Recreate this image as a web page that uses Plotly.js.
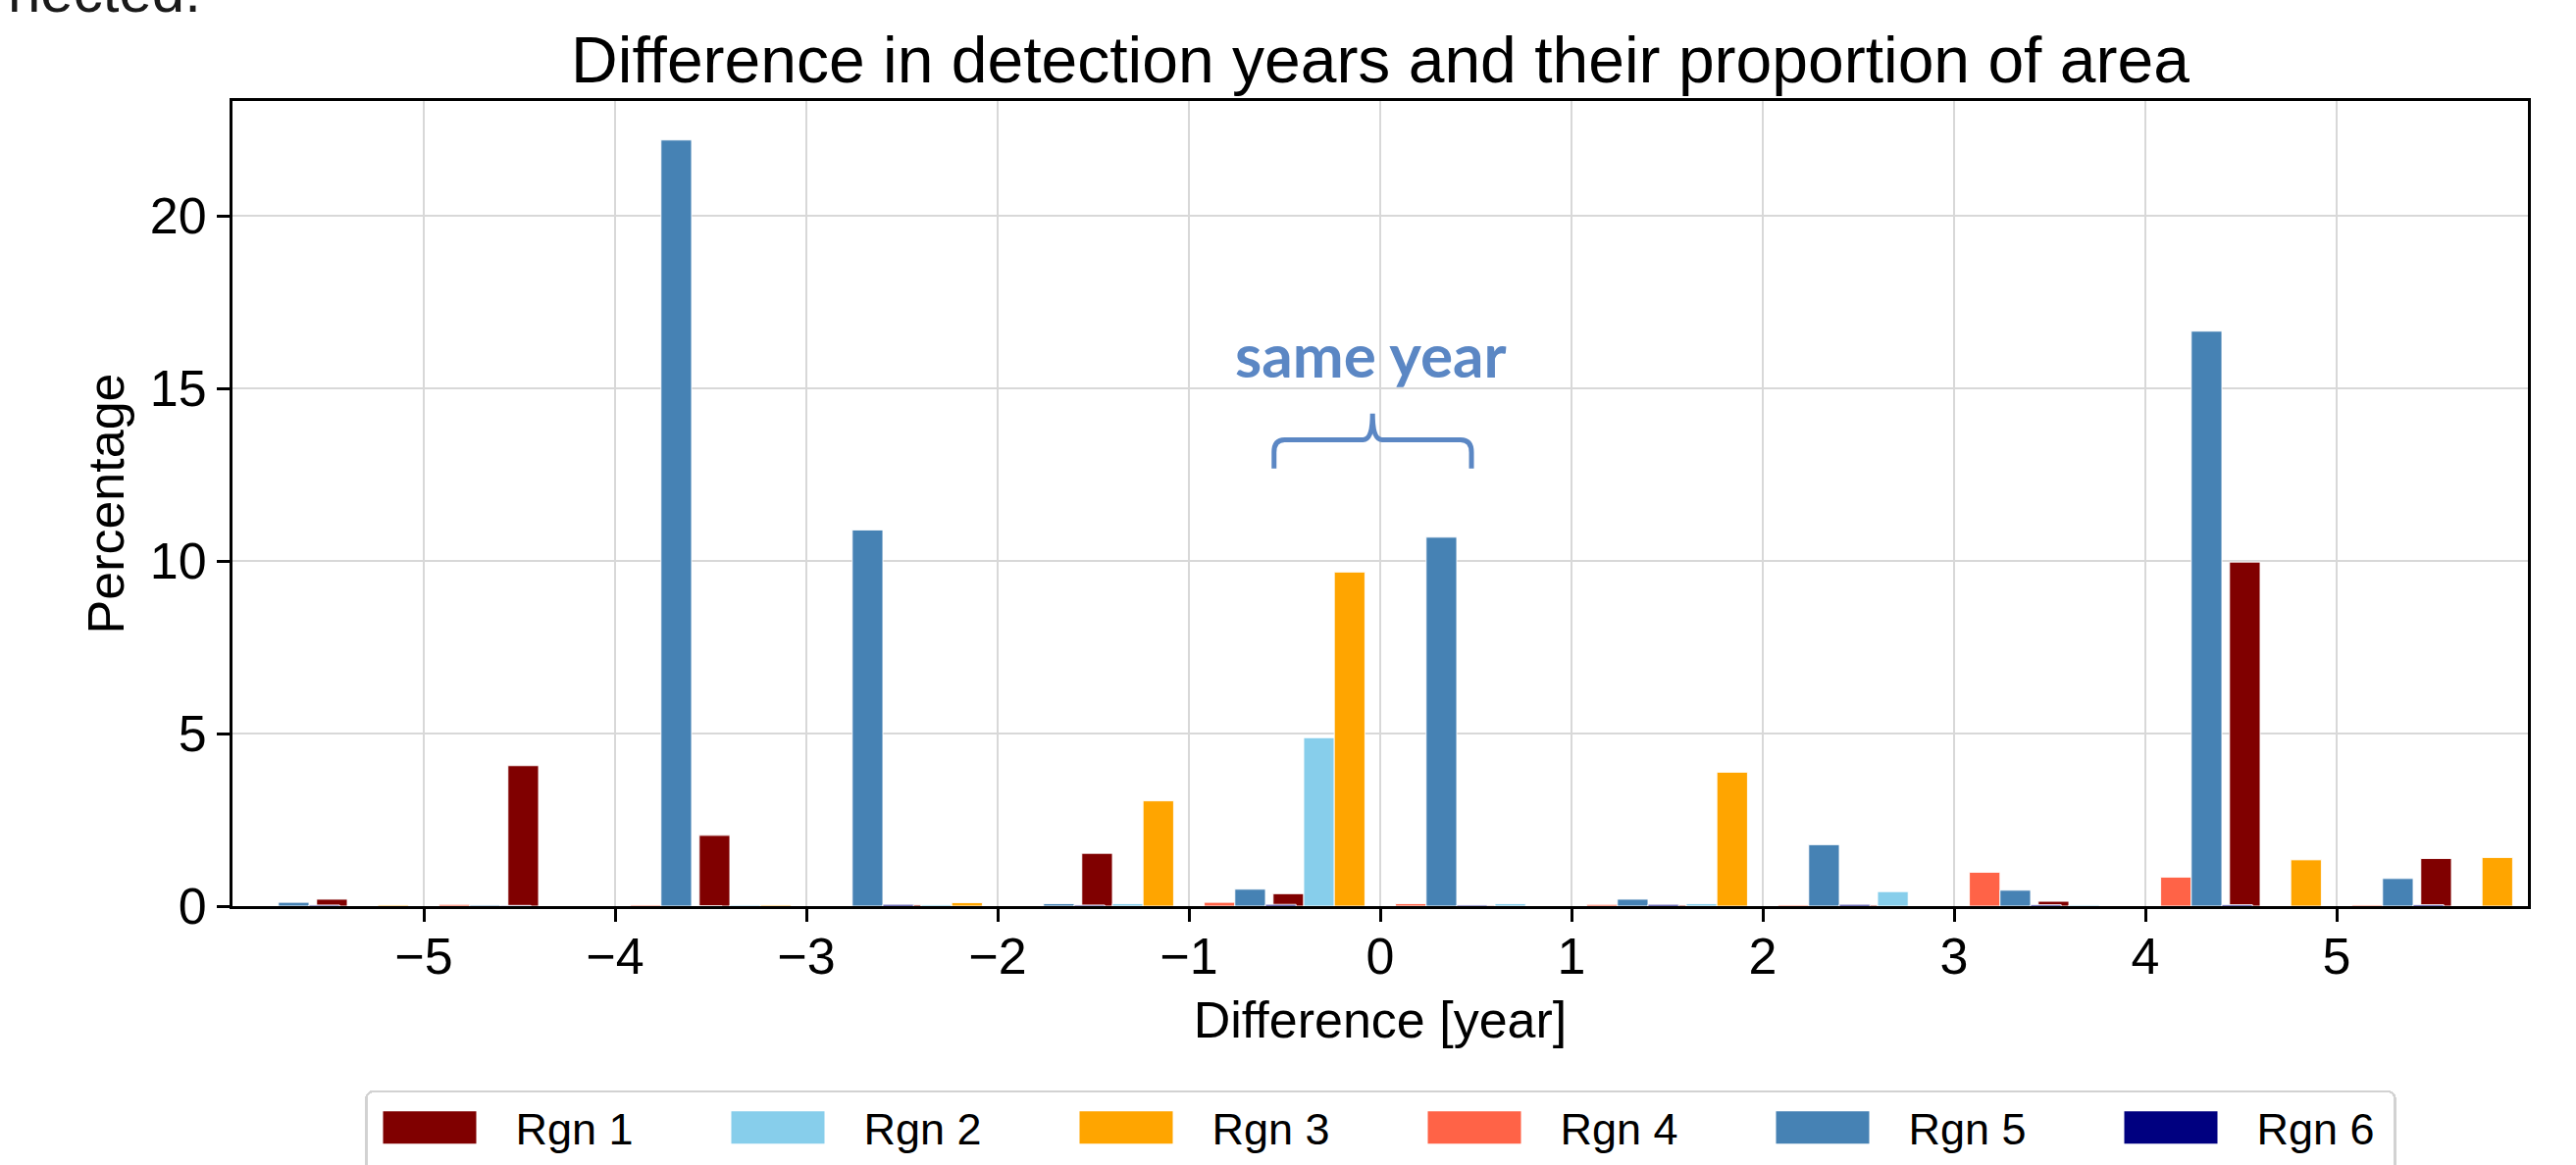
<!DOCTYPE html>
<html>
<head>
<meta charset="utf-8">
<script src="https://cdn.plot.ly/plotly-3.0.1.min.js"></script>
<style>
html, body { margin: 0; padding: 0; background: #ffffff; }
#chart { width: 2626px; height: 1188px; }
</style>
</head>
<body>
<div id="chart"></div>
<script>
// ---- data ----
const differences = [-6, -5, -4, -3, -2, -1, 0, 1, 2, 3, 4, 5, 6];
const regionNames = ['Rgn 1', 'Rgn 2', 'Rgn 3', 'Rgn 4', 'Rgn 5', 'Rgn 6'];
const rgn1 = [0, 0.20, 4.07, 2.05, 0.04, 1.53, 0.36, 0.02, 0.03, 0.03, 0.14, 9.97, 1.38];
const rgn2 = [0, 0, 0, 0.03, 0.04, 0.07, 4.88, 0.07, 0.07, 0.42, 0.03, 0, 0];
const rgn3 = [0, 0.03, 0, 0.03, 0.10, 3.05, 9.68, 0, 3.88, 0, 0, 1.34, 1.41];
const rgn4 = [0, 0.05, 0.03, 0, 0, 0.11, 0.07, 0.05, 0.03, 0.98, 0.84, 0.03, 0];
const rgn5 = [0.11, 0.03, 22.20, 10.90, 0.07, 0.49, 10.69, 0.20, 1.78, 0.46, 16.66, 0.80, 0];
const rgn6 = [0.03, 0.02, 0, 0.05, 0.03, 0.05, 0.03, 0.05, 0.05, 0.04, 0.04, 0.04, 0];
const xTickValues = [-5, -4, -3, -2, -1, 0, 1, 2, 3, 4, 5];
const chartTitle = 'Difference in detection years and their proportion of area';
const xTitle = 'Difference [year]';
const yTitle = 'Percentage';
const bracketLabel = 'same year';
const pageFragment = 'nected.';

// ---- styling ----
const regionValues = [rgn1, rgn2, rgn3, rgn4, rgn5, rgn6];
const regionColors = ['#800000', '#87ceeb', '#ffa500', '#ff6347', '#4682b4', '#000080'];
const slotIndex = [-3, -2, -1, 1, 2, 3];
const barWidth = 0.16;
const FONT = '"Liberation Sans", Arial, Helvetica, sans-serif';

const traces = regionValues.map((vals, i) => ({
  type: 'bar',
  name: regionNames[i],
  x: differences,
  y: vals,
  width: barWidth,
  offset: slotIndex[i] * barWidth - barWidth / 2,
  marker: { color: regionColors[i], line: { color: 'rgba(255,255,255,0.9)', width: 1 } },
  cliponaxis: true
}));

const axisCommon = {
  showline: true, mirror: true, linecolor: '#000000', linewidth: 3,
  ticks: 'outside', ticklen: 13, tickwidth: 3, tickcolor: '#000000',
  showgrid: true, gridcolor: '#d8d8d8', gridwidth: 2.5,
  zeroline: false,
  tickfont: { family: FONT, size: 52, color: '#000000' },
  automargin: false
};

const layout = {
  width: 2626, height: 1188,
  paper_bgcolor: '#ffffff', plot_bgcolor: '#ffffff',
  margin: { l: 237, r: 49, t: 103, b: 264, pad: 0, autoexpand: false },
  barmode: 'overlay',
  font: { family: FONT, color: '#000000' },
  title: {
    text: chartTitle,
    font: { family: FONT, size: 66, color: '#000000' },
    x: 0.5, xref: 'paper', xanchor: 'center',
    y: 1 - 61 / 1188, yref: 'container', yanchor: 'middle'
  },
  xaxis: Object.assign({}, axisCommon, {
    range: [-6, 6],
    tickmode: 'array', tickvals: xTickValues,
    ticklabelstandoff: -9,
    title: { text: xTitle, font: { family: FONT, size: 52, color: '#000000' }, standoff: 19 }
  }),
  yaxis: Object.assign({}, axisCommon, {
    range: [0, 23.33],
    tickmode: 'linear', tick0: 0, dtick: 5,
    title: { text: yTitle, font: { family: FONT, size: 52, color: '#000000' }, standoff: 10 }
  }),
  showlegend: true,
  legend: {
    orientation: 'h',
    x: (372 - 237) / 2340, xanchor: 'left',
    y: (924.4 - 1112) / 821, yanchor: 'top',
    font: { family: FONT, size: 45, color: '#000000' },
    bgcolor: '#ffffff', bordercolor: '#d2d2d2', borderwidth: 2.5,
    itemwidth: 141,
    entrywidth: 199, entrywidthmode: 'pixels',
    traceorder: 'normal',
    itemclick: false, itemdoubleclick: false
  },
  annotations: [
    {
      text: '<b>' + bracketLabel + '</b>',
      xref: 'x', yref: 'y', x: -0.05, y: 16.0,
      xanchor: 'center', yanchor: 'middle', showarrow: false,
      font: { family: 'Lato, "Open Sans", sans-serif', size: 62, color: '#5b87c4' }
    },
    {
      text: pageFragment,
      xref: 'paper', yref: 'paper', x: (207 - 237) / 2340, y: (924.4 - 27) / 821,
      xanchor: 'right', yanchor: 'bottom', showarrow: false,
      font: { family: FONT, size: 60, color: '#1a1a1a' }
    }
  ],
  shapes: [
    {
      type: 'path', xref: 'x', yref: 'y', layer: 'above',
      path: 'M -0.555,12.68 L -0.555,13.15 Q -0.555,13.51 -0.50,13.51 L -0.09,13.51 Q -0.04,13.51 -0.04,14.27 ' +
            'Q -0.04,13.51 0.01,13.51 L 0.42,13.51 Q 0.477,13.51 0.477,13.15 L 0.477,12.68',
      line: { color: '#5b87c4', width: 5 }
    }
  ]
};

Plotly.newPlot('chart', traces, layout, { staticPlot: true, displayModeBar: false }).then(gd => {
  // enlarge legend swatches to match the reference's wide rectangles
  const items = gd.querySelectorAll('.legend .traces');
  let lastRight = null;
  items.forEach(item => {
    const path = item.querySelector('.legendpoints path');
    const text = item.querySelector('text.legendtext');
    if (!path || !text) return;
    const tb = text.getBoundingClientRect();
    lastRight = tb.right;
    const pb = path.getBoundingClientRect();
    const cx = tb.left - 40 - 47.5;
    const cy = (pb.top + pb.bottom) / 2;
    const svg = path.ownerSVGElement;
    const pt = svg.createSVGPoint();
    pt.x = cx; pt.y = cy;
    const local = pt.matrixTransform(path.parentNode.getScreenCTM().inverse());
    path.removeAttribute('transform');
    path.setAttribute('d', `M${local.x - 47.5},${local.y - 16.5}h95v33h-95Z`);
    path.style.strokeWidth = '0px';
  });
  const bg = gd.querySelector('.legend rect.bg');
  if (bg) {
    bg.setAttribute('rx', 8); bg.setAttribute('ry', 8);
    const bb = bg.getBoundingClientRect();
    if (lastRight !== null) {
      const w = parseFloat(bg.getAttribute('width')) + (lastRight + 21 - bb.right);
      bg.setAttribute('width', w);
    }
    const h = parseFloat(bg.getAttribute('height')) + (1200 - bb.bottom);
    bg.setAttribute('height', h);
  }
});
</script>
</body>
</html>
